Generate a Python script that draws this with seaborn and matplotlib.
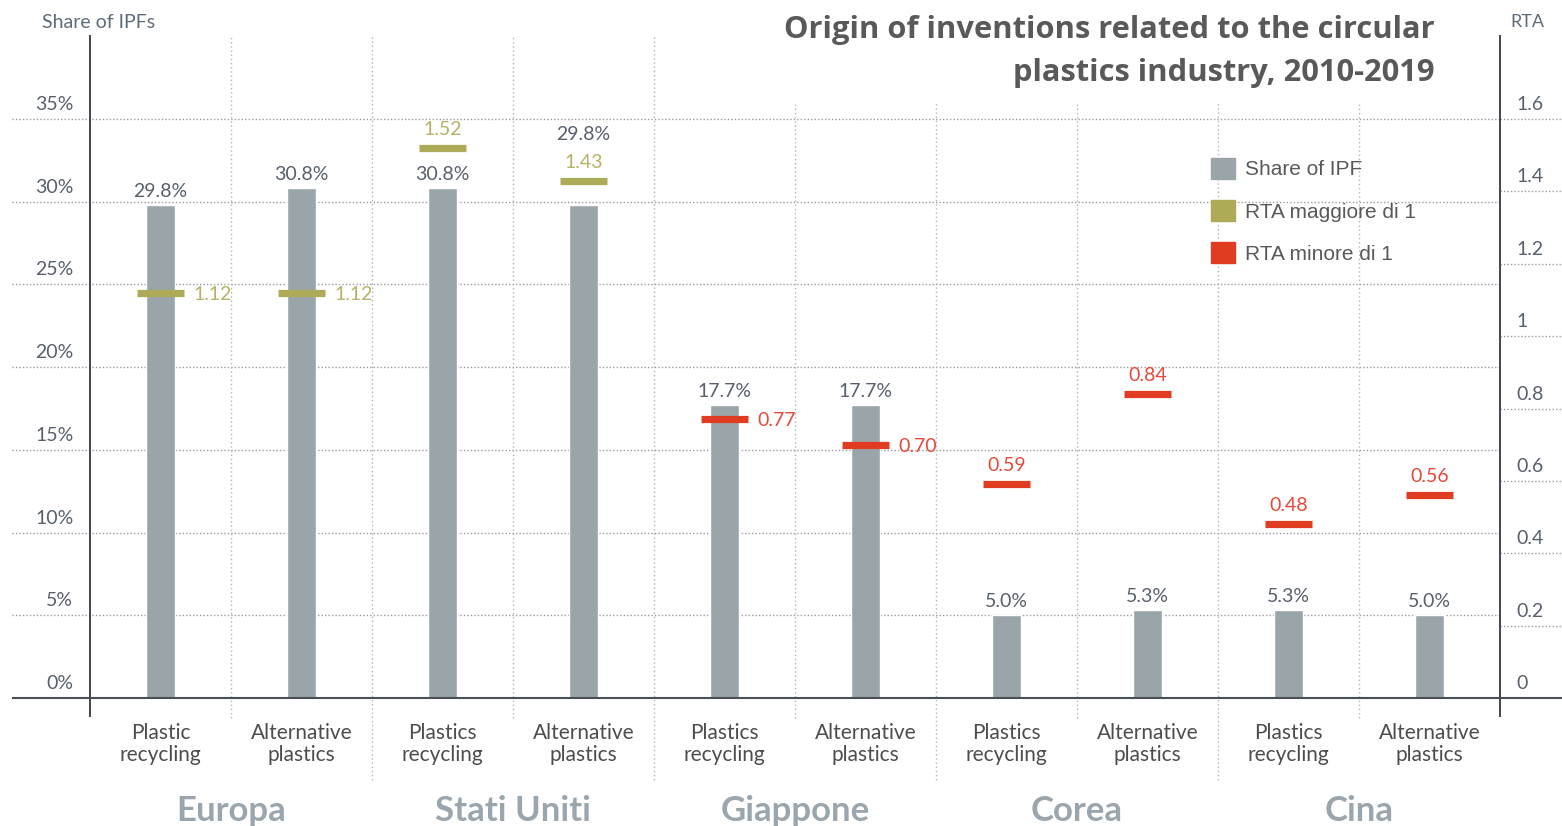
import matplotlib
matplotlib.use("Agg")
import matplotlib.pyplot as plt
import matplotlib.transforms as mtransforms
from matplotlib.patches import Patch
import seaborn as sns
import pandas as pd

##### DATA #####
countries = ["Europa", "Stati Uniti", "Giappone", "Corea", "Cina"]
tech_labels = ["Plastic\nrecycling", "Alternative\nplastics",
               "Plastics\nrecycling", "Alternative\nplastics",
               "Plastics\nrecycling", "Alternative\nplastics",
               "Plastics\nrecycling", "Alternative\nplastics",
               "Plastics\nrecycling", "Alternative\nplastics"]
share = [29.8, 30.8, 30.8, 29.8, 17.7, 17.7, 5.0, 5.3, 5.3, 5.0]
rta = [1.12, 1.12, 1.52, 1.43, 0.77, 0.70, 0.59, 0.84, 0.48, 0.56]
share_ticks = [0, 5, 10, 15, 20, 25, 30, 35]
rta_ticks = [0, 0.2, 0.4, 0.6, 0.8, 1.0, 1.2, 1.4, 1.6]
rta_tick_labels = ["0", "0.2", "0.4", "0.6", "0.8", "1", "1.2", "1.4", "1.6"]

# where the RTA value label sits, and which share labels go on top of it
rta_label_side = ["right", "right", "above", "above", "right",
                  "right", "above", "above", "above", "above"]
share_label_on_top = [False, False, False, True, False,
                      False, False, False, False, False]

##### STYLE #####
bar_color = "#9aa5aa"
olive = "#aeab58"
olive_txt = "#b7b265"
red = "#e03c21"
red_txt = "#e8483a"
txt = "#58606c"
dark = "#4a4f57"

sns.set_style("white")
plt.rcParams["font.family"] = ["Lato", "DejaVu Sans"]

W, H = 1562, 826
fig = plt.figure(figsize=(W / 100, H / 100), dpi=100)
ax = fig.add_axes([90 / W, 1 - 716 / H, 1410 / W, 680 / H])

df = pd.DataFrame({
    "key": [f"{countries[i // 2]} {i % 2}" for i in range(len(share))],
    "share": share,
})
sns.barplot(data=df, x="key", y="share", color=bar_color, saturation=1,
            width=0.2, errorbar=None, ax=ax, zorder=2)

px = 1 / 141  # data units per pixel along x
ax.set_xlim(-0.5, 9.5)
ax.set_ylim(-18 / 16.543, 662 / 16.543)
ax.set(xlabel="", ylabel="")

ax2 = ax.twinx()
ax2.set_ylim(-18 / 361.875, 662 / 361.875)

for a in (ax, ax2):
    for s in ("top", "bottom"):
        a.spines[s].set_visible(False)
ax.spines["right"].set_visible(False)
ax2.spines["left"].set_visible(False)
ax.spines["left"].set_color("#3f4650")
ax2.spines["right"].set_color("#3f4650")
ax.spines["left"].set_linewidth(1.4)
ax2.spines["right"].set_linewidth(1.4)

# ticks
ax.set_xticks(range(len(share)))
ax.set_xticklabels(tech_labels, fontsize=15, color="#4d4d4d", linespacing=1.15)
ax.tick_params(axis="x", length=0, pad=5)

lift = mtransforms.ScaledTranslation(0, 16 / 100, fig.dpi_scale_trans)
ax.set_yticks(share_ticks)
ax.set_yticklabels([f"{t}%" for t in share_ticks], fontsize=14, color=txt)
ax.tick_params(axis="y", length=0, pad=12)
ax2.set_yticks(rta_ticks)
ax2.set_yticklabels(rta_tick_labels, fontsize=14, color=txt)
ax2.tick_params(axis="y", length=0, pad=12)
for lab in ax.get_yticklabels() + ax2.get_yticklabels():
    lab.set_transform(lab.get_transform() + lift)

# grid
dot = dict(color="#9a9a9a", linewidth=1.0, linestyles=(0, (1, 1.5)), clip_on=False, zorder=0)
ax.hlines(share_ticks[1:], -0.5 - 78 * px, 9.5, **dot)
ax2.hlines(rta_ticks[1:], 9.5, 9.5 + 62 * px, **dot)
vdot = dict(color="#b0b4b8", linewidth=1.0, linestyles=(0, (1, 2)), clip_on=False, zorder=0)
for k in range(1, len(share)):
    x = k - 0.5
    top = 40.02 if x < 4 else 35.97
    bottom = -4.96 if k % 2 == 0 else -1.21
    ax.vlines(x, bottom, top, **vdot)
ax.hlines(0, -0.5 - 78 * px, 9.5 + 62 * px, color=dark, linewidth=1.5,
          clip_on=False, zorder=3)

# share labels
for i, v in enumerate(share):
    if share_label_on_top[i]:
        ax2.annotate(f"{v:.1f}%", (i, rta[i]), xytext=(0, 41), textcoords="offset pixels",
                     ha="center", va="baseline", fontsize=14, color=txt)
    else:
        ax.annotate(f"{v:.1f}%", (i, v), xytext=(0, 8), textcoords="offset pixels",
                    ha="center", va="baseline", fontsize=14, color=txt)

# RTA markers
for i, r in enumerate(rta):
    c, ct = (olive, olive_txt) if r > 1 else (red, red_txt)
    ax2.hlines(r, i - 0.167, i + 0.167, color=c, linewidth=5.2, capstyle="butt", zorder=4)
    if rta_label_side[i] == "right":
        ax2.annotate(f"{r:.2f}", (i + 0.167, r), xytext=(9, -7), textcoords="offset pixels",
                     ha="left", va="baseline", fontsize=14, color=ct)
    else:
        ax2.annotate(f"{r:.2f}", (i, r), xytext=(0, 13), textcoords="offset pixels",
                     ha="center", va="baseline", fontsize=14, color=ct)

# group names
blend = mtransforms.blended_transform_factory(ax.transData, fig.transFigure)
for g, name in enumerate(countries):
    ax.text(2 * g + 0.5, 1 - 811 / H, name, transform=blend, ha="center", va="center",
            fontsize=25, fontweight="bold", color="#9aa5ad", clip_on=False)

# texts
fig.text(42 / W, 1 - 22 / H, "Share of IPFs", ha="left", va="center", fontsize=14, color="#5f6b7a")
fig.text(1510 / W, 1 - 22 / H, "RTA", ha="left", va="center", fontsize=13, color="#5f6b7a")
fig.text(1435 / W, 1 - 30 / H, "Origin of inventions related to the circular",
         ha="right", va="center", fontsize=22.2, fontweight="bold", color="#595959",
         family=["Open Sans", "DejaVu Sans"])
fig.text(1435 / W, 1 - 73 / H, "plastics industry, 2010-2019",
         ha="right", va="center", fontsize=22.2, fontweight="bold", color="#595959",
         family=["Open Sans", "DejaVu Sans"])

handles = [Patch(color=bar_color), Patch(color=olive), Patch(color=red)]
leg = fig.legend(handles, ["Share of IPF", "RTA maggiore di 1", "RTA minore di 1"],
                 loc="upper left", bbox_to_anchor=(1211 / W, 1 - 158 / H), frameon=False,
                 borderpad=0, borderaxespad=0, handlelength=1.15, handleheight=1.15,
                 handletextpad=0.5, labelspacing=1.0,
                 prop={"family": ["Liberation Sans", "DejaVu Sans"], "size": 15})
for t in leg.get_texts():
    t.set_color("#595959")

fig.savefig("out.png", dpi=100)
